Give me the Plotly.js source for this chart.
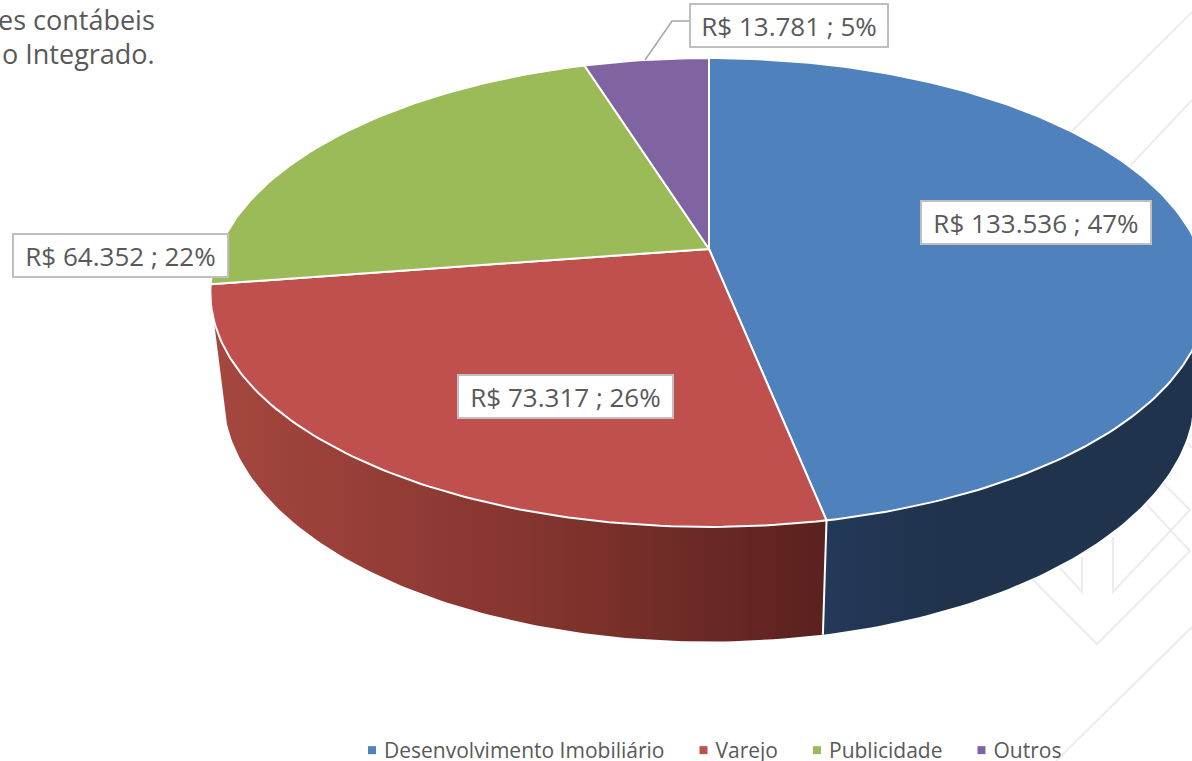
<!DOCTYPE html>
<html><head><meta charset="utf-8">
<script src="https://cdn.plot.ly/plotly-3.0.1.min.js"></script>
<style>html,body{margin:0;padding:0;background:#fff;overflow:hidden}#c{width:1192px;height:761px}</style>
</head><body><div id="c"></div>
<script>
const categories = ['Desenvolvimento Imobiliário','Varejo','Publicidade','Outros'];
const values = [133536,73317,64352,13781];
const percents = [47,26,22,5];
const colors = ['#4f81bd','#c0504d','#9bbb59','#8064a2'];
const valueText = ['R$ 133.536 ; 47%','R$ 73.317 ; 26%','R$ 64.352 ; 22%','R$ 13.781 ; 5%'];
const labelCenters = [[1036,222],[565.5,396],[120.5,255],[789,25.5]];
const labelWidths = [226,211,211,194];
const noteLines = ['es contábeis','o Integrado.'];
const decorLines = [
 [[1192,12],[1072,131]],
 [[1192,100],[1130,166]],
 [[1033,580],[1097,644],[1190,551],[1147,505]],
 [[1060,568],[1082,592],[1082,557]],
 [[1113,537],[1113,592],[1190,510],[1163,483]],
 [[1187,443],[1192,448]],
 [[1192,627],[1056,761]]
];
const leader = [[645,60],[672,21],[690,21]];

// perspective disc geometry
const R=490, CX=709, CY=249, A=180.2, C=-0.1855, DEPTH_W=0.026, DEPTH_Y=110;
function proj(deg, lower){
  const t=deg*Math.PI/180, u=Math.sin(t), v=-Math.cos(t);
  const w=1+C*v+(lower?DEPTH_W:0);
  return [CX+R*u/w,(CY+A*v+(lower?DEPTH_Y:0))/w];
}
const total=values.reduce((a,b)=>a+b,0);
let cum=0; const bounds=[0];
values.forEach(v=>{cum+=v;bounds.push(cum/total*360);});
function arc(a,b,lower){
  const n=Math.max(2,Math.ceil(Math.abs(b-a))), pts=[];
  for(let i=0;i<=n;i++) pts.push(proj(a+(b-a)*i/n,lower));
  return pts;
}
const traces=[];
function poly(pts,extra){
  return Object.assign({type:'scatter',mode:'lines',x:pts.map(p=>p[0]),y:pts.map(p=>p[1]),
    fill:'toself',showlegend:false,hoverinfo:'skip',line:{width:0}},extra);
}
// side walls
const wallStart=107.2, wallEnd=252.8;
traces.push(poly(arc(wallStart,bounds[1],false).concat(arc(bounds[1],wallStart,true)),{
  fillcolor:'#1f334c',
  fillgradient:{type:'horizontal',colorscale:[[0,'#24395a'],[0.3,'#1f334c'],[1,'#1f334c']]}}));
traces.push(poly(arc(bounds[1],wallEnd,false).concat(arc(wallEnd,bounds[1],true)),{
  fillcolor:'#7a2f2c',
  fillgradient:{type:'horizontal',colorscale:[[0,'#a5473f'],[0.5,'#86352f'],[1,'#5a211e']]}}));
// separator on the wall
const sep=[proj(bounds[1],false),proj(bounds[1],true)];
traces.push({type:'scatter',mode:'lines',x:sep.map(p=>p[0]),y:sep.map(p=>p[1]),showlegend:false,hoverinfo:'skip',line:{color:'#fff',width:2}});
// top faces
values.forEach((v,i)=>{
  const pts=[[CX,CY]].concat(arc(bounds[i],bounds[i+1],false)).concat([[CX,CY]]);
  traces.push(poly(pts,{name:categories[i],fillcolor:colors[i],line:{color:'#fff',width:2}}));
});
// leader
traces.push({type:'scatter',mode:'lines',x:leader.map(p=>p[0]),y:leader.map(p=>p[1]),showlegend:false,hoverinfo:'skip',line:{color:'#a6a6a6',width:1.5}});
// legend keys
categories.forEach((c,i)=>traces.push({type:'scatter',mode:'markers',x:[null],y:[null],name:c,
  marker:{symbol:'square',size:8,color:colors[i]},hoverinfo:'skip'}));

const shapes=decorLines.map(l=>({type:'path',layer:'below',xref:'x',yref:'y',
  path:l.map((p,i)=>(i?'L':'M')+p[0]+' '+p[1]).join(' '),line:{color:'#ececec',width:2}}));

const annotations=valueText.map((t,i)=>({xref:'x',yref:'y',x:labelCenters[i][0],y:labelCenters[i][1],
  text:t,showarrow:false,xanchor:'center',yanchor:'middle',width:labelWidths[i],height:39,
  bgcolor:'#fff',bordercolor:'#bfbfbf',borderwidth:2,borderpad:1,align:'center',valign:'middle',
  font:{family:'"Open Sans"',size:26,color:'#595959'}}));
noteLines.forEach((t,i)=>annotations.push({xref:'x',yref:'y',x:157,y:19+i*34,text:t,showarrow:false,
  xanchor:'right',yanchor:'middle',font:{family:'"Open Sans"',size:27,color:'#595959'}}));

const layout={width:1192,height:761,margin:{l:0,r:0,t:0,b:0,autoexpand:false},paper_bgcolor:'#fff',plot_bgcolor:'rgba(0,0,0,0)',
  xaxis:{range:[0,1192],visible:false,fixedrange:true},
  yaxis:{range:[761,0],visible:false,fixedrange:true},
  showlegend:true,
  legend:{orientation:'h',x:344/1192,xanchor:'left',y:1-730/761,yanchor:'top',bgcolor:'rgba(0,0,0,0)',
    font:{family:'"Open Sans"',size:21,color:'#595959'},itemclick:false,itemdoubleclick:false},
  shapes,annotations};
Plotly.newPlot('c',traces,layout,{displayModeBar:false,responsive:false}).then(gd=>{
  // tune legend key spacing to the reference: keys sit closer to their labels, entries slightly wider apart
  const box=gd.querySelector('.legend .scrollbox');
  if(box) box.removeAttribute('clip-path');
  gd.querySelectorAll('.legend .traces').forEach((el,i)=>{
    const m=/translate\(([-\d.]+),\s*([-\d.]+)\)/.exec(el.getAttribute('transform')||'');
    if(m) el.setAttribute('transform','translate('+(parseFloat(m[1])+i*6)+','+m[2]+')');
    const pts=el.querySelector('.legendpoints');
    if(pts) pts.setAttribute('transform','translate(8,0)');
  });
});
</script></body></html>
